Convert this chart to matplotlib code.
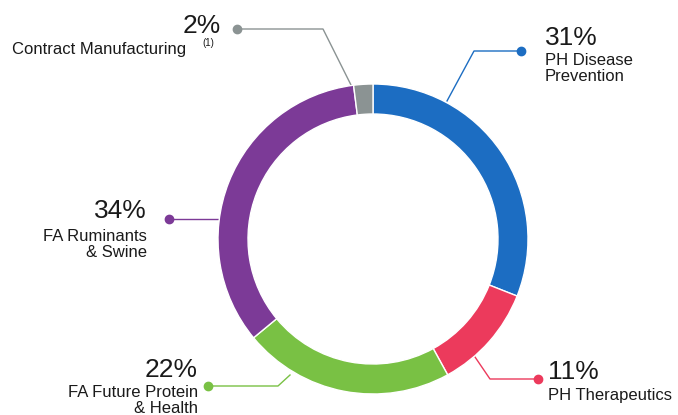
import matplotlib.pyplot as plt

# segment data (clockwise from top)
segmentos = ['PH Disease\nPrevention', 'PH Therapeutics', 'FA Future Protein\n& Health',
             'FA Ruminants\n& Swine', 'Contract Manufacturing']
percentuais = [31, 11, 22, 34, 2]
cores = ['#1c6dc2', '#ec3a5c', '#79c144', '#7c3a97', '#8b9393']

plt.rcParams['font.family'] = ['Liberation Sans', 'DejaVu Sans']

W, H = 678, 415
fig = plt.figure(figsize=(W / 100, H / 100), dpi=100)
ax = fig.add_axes([0, 0, 1, 1])

def py(y):
    # pixel row -> data y
    return H - y

cx, cy, raio = 373, py(239), 155
ax.pie(percentuais, colors=cores, startangle=90, counterclock=False,
       radius=raio, center=(cx, cy), frame=True,
       wedgeprops=dict(width=30, edgecolor='white', linewidth=1))

# leader lines: dot -> elbow -> ring
linhas = [
    ([521, 474, 447], [51, 51, 101]),
    ([538, 490, 475], [379, 379, 357]),
    ([208, 278, 290], [386, 386, 375]),
    ([169, 232], [219, 219]),
    ([237, 323, 352], [29, 29, 87]),
]
for (xs, ys), c in zip(linhas, cores):
    ax.plot(xs, [py(v) for v in ys], color=c, lw=1, zorder=0)
    ax.plot(xs[0], py(ys[0]), 'o', color=c, ms=6, zorder=3)

# x, baseline of %, alignment, baseline of last label line
rotulos = [
    (545, 45, 'left', 81),
    (548, 379, 'left', 400),
    (198, 377, 'right', 413),
    (147, 218, 'right', 257),
    (221, 33, 'right', None),
]
for (x, yp, ha, yl), p, nome in zip(rotulos, percentuais, segmentos):
    ax.text(x, py(yp), f'{p}%', fontsize=19, ha=ha, va='baseline', color='#1a1a1a')
    if yl is not None:
        ax.text(x, py(yl), nome, fontsize=12, ha=ha, va='baseline', color='#1a1a1a',
                linespacing=1.1, multialignment=ha)

ax.text(12, py(54), segmentos[4], fontsize=12, ha='left', va='baseline', color='#1a1a1a')
ax.text(202, py(46), '(1)', fontsize=7, ha='left', va='baseline', color='#1a1a1a')

ax.set_xlim(0, W)
ax.set_ylim(0, H)
ax.set_aspect('auto')
ax.axis('off')

fig.savefig('out.png', dpi=100)
